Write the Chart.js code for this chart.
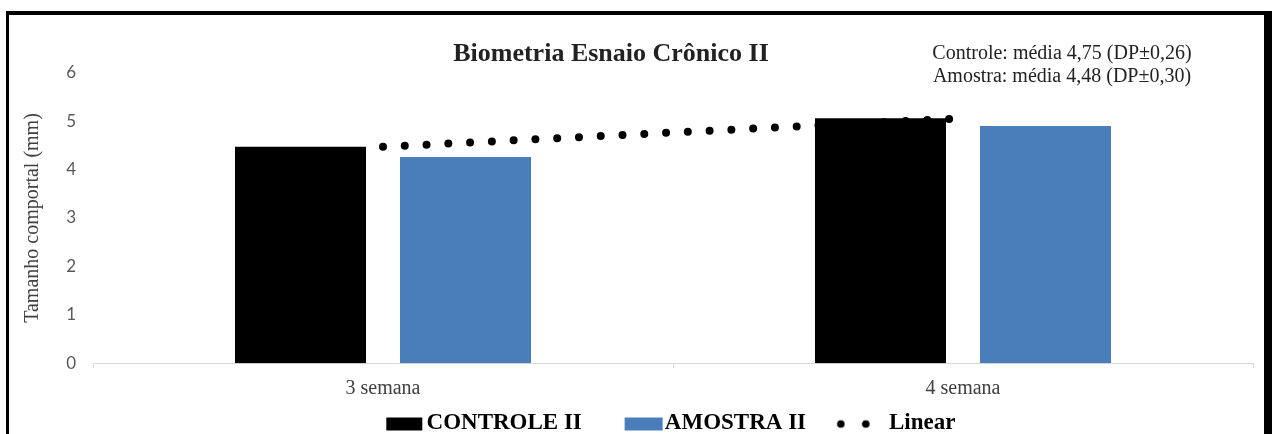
<!DOCTYPE html>
<html>
<head>
<meta charset="utf-8">
<title>Biometria Esnaio Crônico II</title>
<script src="https://cdn.jsdelivr.net/npm/chart.js@4.4.1/dist/chart.umd.min.js"></script>
<style>
  html, body { margin: 0; padding: 0; background: #fff; overflow: hidden; }
  /* black frame around the figure (bottom edge falls outside the window) */
  #frame {
    position: absolute; left: 6px; top: 11px; width: 1266px; height: 440px;
    box-sizing: border-box;
    border-top: 4px solid #000; border-left: 3px solid #000; border-right: 8px solid #000;
  }
  #chart-box { position: absolute; left: 0; top: 0; width: 1272px; height: 445px; }
</style>
</head>
<body>
<div id="frame"></div>
<div id="chart-box"><canvas id="bio-chart"></canvas></div>
<script>
const semanas = ['3 semana', '4 semana'];
const controleII = [4.47, 5.06];
const amostraII = [4.26, 4.90];
const linearTrend = [4.47, 5.06];
const yTicks = [0, 1, 2, 3, 4, 5, 6];

const chartTitle = 'Biometria Esnaio Crônico II';
const resumo = ['Controle: média 4,75 (DP±0,26)', 'Amostra: média 4,48 (DP±0,30)'];

const serif = '"Liberation Serif", "Times New Roman", serif';

// legend swatches, drawn on their own small canvases
function makeSwatch(draw) {
    const c = document.createElement('canvas');
    c.width = 84;
    c.height = 16;
    draw(c.getContext('2d'));
    return c;
}
const swatches = [
    makeSwatch(ctx => { ctx.fillStyle = '#000'; ctx.fillRect(44, 2, 36, 13); }),
    makeSwatch(ctx => { ctx.fillStyle = '#4a7ebb'; ctx.fillRect(44, 2, 38, 13); }),
    makeSwatch(ctx => {
        ctx.fillStyle = '#000';
        [36, 61].forEach(x => {
            ctx.beginPath();
            ctx.arc(x, 8.5, 3.8, 0, Math.PI * 2);
            ctx.fill();
        });
    })
];

// title and the mean / DP note at the top
const headerText = {
    id: 'headerText',
    afterDraw(chart) {
        const ctx = chart.ctx;
        ctx.save();
        ctx.textAlign = 'center';
        ctx.textBaseline = 'middle';
        ctx.fillStyle = '#222';
        ctx.font = 'bold 26px ' + serif;
        ctx.fillText(chartTitle, 611, 54);
        ctx.font = '20px ' + serif;
        resumo.forEach((line, i) => ctx.fillText(line, 1062, 54 + i * 23));
        ctx.restore();
    }
};

// the legend sits a little left of the plot centre
const legendNudge = {
    id: 'legendNudge',
    afterLayout(chart) {
        chart.legend.left -= 18.5;
        chart.legend.right -= 18.5;
    }
};

const ctx = document.getElementById('bio-chart').getContext('2d');
window.bioChart = new Chart(ctx, {
    type: 'bar',
    data: {
        labels: semanas,
        datasets: [
            {
                label: 'CONTROLE II',
                data: controleII,
                backgroundColor: '#000000',
                borderWidth: 0,
                categoryPercentage: 0.569,
                barPercentage: 0.794,
                order: 1
            },
            {
                label: 'AMOSTRA II',
                data: amostraII,
                backgroundColor: '#4a7ebb',
                borderWidth: 0,
                categoryPercentage: 0.569,
                barPercentage: 0.794,
                order: 1
            },
            {
                type: 'line',
                label: 'Linear',
                data: linearTrend,
                borderColor: '#000000',
                backgroundColor: '#000000',
                borderWidth: 8,
                borderDash: [0, 21.8],
                borderCapStyle: 'round',
                pointRadius: 0,
                fill: false,
                order: 0 // keep the dotted trend on top of the bars
            }
        ]
    },
    options: {
        responsive: true,
        maintainAspectRatio: false,
        animation: false,
        devicePixelRatio: 1,
        layout: { padding: { top: 72.7, right: 19, bottom: 0, left: 8 } },
        scales: {
            x: {
                grid: { display: true, drawOnChartArea: false, drawTicks: true, tickLength: 5, color: '#d9d9d9', offset: true },
                border: { display: true, color: '#d9d9d9' },
                ticks: { padding: 8, color: '#404040', font: { family: serif, size: 20 } },
                afterFit: axis => { axis.height = 38.7; }
            },
            y: {
                min: 0,
                max: 6,
                afterBuildTicks: axis => { axis.ticks = yTicks.map(v => ({ value: v })); },
                grid: { display: false, drawTicks: false },
                border: { display: false },
                ticks: { padding: 17, color: '#595959', font: { family: 'Lato', size: 17 } },
                title: {
                    display: true,
                    text: 'Tamanho comportal (mm)',
                    color: '#404040',
                    font: { family: serif, size: 20 },
                    padding: { top: 13, bottom: 0 }
                },
                afterFit: axis => { axis.width = 85; }
            }
        },
        plugins: {
            tooltip: { enabled: false },
            legend: {
                position: 'bottom',
                fullSize: false,
                labels: {
                    usePointStyle: true,
                    pointStyleWidth: 61.5,
                    padding: 10,
                    color: '#000',
                    font: { family: serif, size: 23, weight: 'bold' },
                    generateLabels: chart => {
                        const items = Chart.defaults.plugins.legend.labels.generateLabels(chart);
                        items.sort((a, b) => a.datasetIndex - b.datasetIndex);
                        items.forEach(item => { item.pointStyle = swatches[item.datasetIndex]; });
                        return items;
                    }
                }
            }
        }
    },
    plugins: [headerText, legendNudge]
});
</script>
</body>
</html>
